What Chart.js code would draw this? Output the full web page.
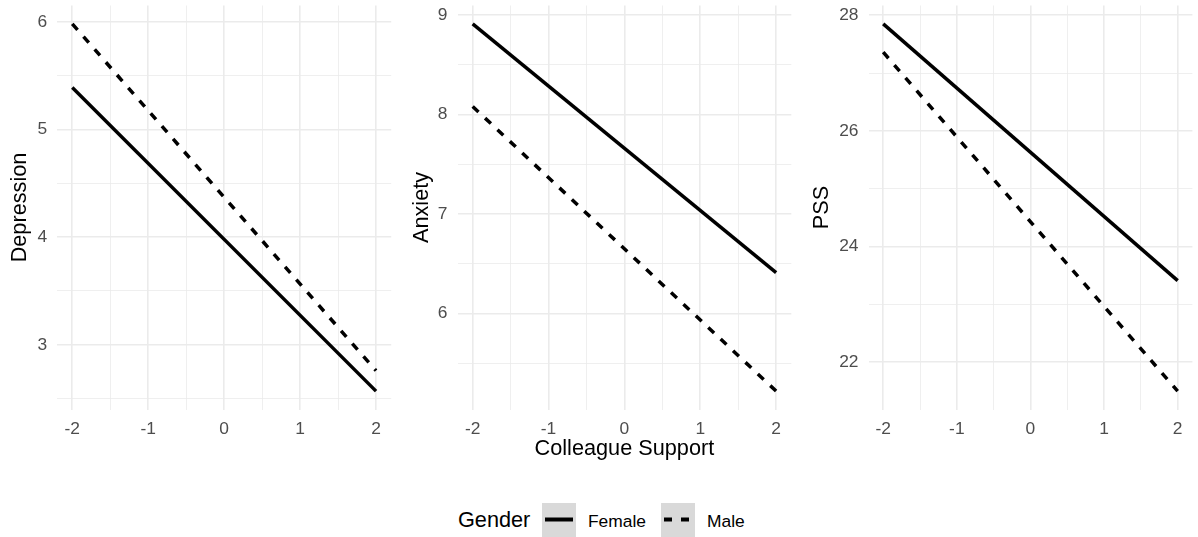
<!DOCTYPE html>
<html>
<head>
<meta charset="utf-8">
<script src="https://cdn.jsdelivr.net/npm/chart.js@4"></script>
<style>
  html, body { margin: 0; padding: 0; background: #fff; }
  body { width: 1198px; height: 537px; position: relative; overflow: hidden; font-family: "Liberation Sans", Arial, sans-serif; }
  .panel { position: absolute; top: 0; height: 470px; }
  .legend_text { position: absolute; white-space: nowrap; color: #000; }
  .legend_key { position: absolute; top: 503px; width: 34px; height: 34px; background: #d9d9d9; }
</style>
</head>
<body>
<div class="panel" style="left:0px;width:400px"><canvas id="chart_depression"></canvas></div>
<div class="panel" style="left:400px;width:400px"><canvas id="chart_anxiety"></canvas></div>
<div class="panel" style="left:800px;width:398px"><canvas id="chart_pss"></canvas></div>

<span class="legend_text" style="left:458px;top:507px;font-size:21.7px;line-height:26px">Gender</span>
<div class="legend_key" style="left:542px">
  <svg width="34" height="34"><line x1="3" y1="16.5" x2="31" y2="16.5" stroke="#000" stroke-width="4"/></svg>
</div>
<span class="legend_text" style="left:588px;top:511px;font-size:17.4px;line-height:21px">Female</span>
<div class="legend_key" style="left:661px">
  <svg width="34" height="34"><line x1="3" y1="16.5" x2="29" y2="16.5" stroke="#000" stroke-width="4" stroke-dasharray="8 9"/></svg>
</div>
<span class="legend_text" style="left:707px;top:511px;font-size:17.4px;line-height:21px">Male</span>

<script>
const colleague_support = [-2, 2];
const depression_female = [5.39, 2.57];
const depression_male = [5.98, 2.76];
const anxiety_female = [8.91, 6.41];
const anxiety_male = [8.08, 5.22];
const pss_female = [27.85, 23.41];
const pss_male = [27.36, 21.50];
const x_ticks = [-2, -1, 0, 1, 2];
const depression_ticks = [3, 4, 5, 6];
const anxiety_ticks = [6, 7, 8, 9];
const pss_ticks = [22, 24, 26, 28];

const tick_color = '#4d4d4d';
const grid_color = '#ebebeb';

function to_points (values) {
  return colleague_support.map((x, i) => ({ x: x, y: values[i] }));
}

// majors plus the half steps between them, kept inside the axis range
function with_minors (majors, min, max) {
  const step = majors[1] - majors[0];
  const all = majors.slice();
  for (let i = -1; i < majors.length; i++) {
    const v = majors[0] + step * (i + 0.5);
    if (v > min && v < max) all.push(v);
  }
  return all.sort((a, b) => a - b);
}

// ggplot default: 5% expansion on each side
function expand (values) {
  const lo = Math.min(...values);
  const hi = Math.max(...values);
  const pad = (hi - lo) * 0.05;
  return [lo - pad, hi + pad];
}

function build_scale (majors, min, max, extra) {
  const all = with_minors(majors, min, max);
  return Object.assign({
    type: 'linear',
    min: min,
    max: max,
    border: { display: false },
    afterBuildTicks: (scale) => {
      scale.ticks = all.map((v) => ({ value: v }));
    },
    grid: {
      drawTicks: false,
      color: grid_color,
      lineWidth: (ctx) => (ctx.tick && majors.includes(ctx.tick.value)) ? 1.6 : 0.8
    },
    ticks: {
      color: tick_color,
      font: { family: '"Liberation Sans", Arial, sans-serif', size: 17.4 },
      callback: (value) => majors.includes(value) ? String(value) : ''
    }
  }, extra);
}

function display_chart (canvas_id, y_title, female, male, y_majors, axis_width, right_pad, x_title, title_pad) {
  const x_range = expand(colleague_support);
  const y_range = expand(female.concat(male));

  const x_scale = build_scale(x_ticks, x_range[0], x_range[1], {
    afterFit: (scale) => {
      scale.height = 60.5;
      scale.paddingLeft = 0;
      scale.paddingRight = 0;
    },
    title: {
      display: x_title != '',
      text: x_title,
      color: '#000',
      font: { family: '"Liberation Sans", Arial, sans-serif', size: 21.7, lineHeight: 1.2 },
      padding: { top: 0, bottom: 8 }
    }
  });
  x_scale.ticks.padding = 9;

  const y_scale = build_scale(y_majors, y_range[0], y_range[1], {
    afterFit: (scale) => {
      scale.width = axis_width;
      scale.paddingTop = 0;
      scale.paddingBottom = 0;
    },
    title: {
      display: true,
      text: y_title,
      color: '#000',
      font: { family: '"Liberation Sans", Arial, sans-serif', size: 21.7, lineHeight: 1.2 },
      padding: { top: title_pad, bottom: 0 }
    }
  });
  y_scale.ticks.padding = 10;

  new Chart(document.getElementById(canvas_id), {
    type: 'line',
    data: {
      datasets: [
        {
          label: 'Female',
          data: to_points(female),
          borderColor: '#000',
          borderWidth: 3.5,
          borderCapStyle: 'butt',
          pointRadius: 0,
          fill: false
        },
        {
          label: 'Male',
          data: to_points(male),
          borderColor: '#000',
          borderWidth: 3.5,
          borderDash: [8, 9],
          borderCapStyle: 'butt',
          pointRadius: 0,
          fill: false
        }
      ]
    },
    options: {
      responsive: true,
      maintainAspectRatio: false,
      animation: false,
      events: [],
      layout: {
        autoPadding: false,
        padding: { left: 0, top: 5.5, right: right_pad, bottom: 0 }
      },
      plugins: {
        legend: { display: false },
        tooltip: { enabled: false }
      },
      scales: {
        x: x_scale,
        y: y_scale
      }
    }
  });
}

display_chart('chart_depression', 'Depression', depression_female, depression_male, depression_ticks, 57.1, 8.8, '', 7.5);
display_chart('chart_anxiety', 'Anxiety', anxiety_female, anxiety_male, anxiety_ticks, 57.5, 8.7, 'Colleague Support', 9.5);
display_chart('chart_pss', 'PSS', pss_female, pss_male, pss_ticks, 68.5, 5.6, '', 9.5);
</script>
</body>
</html>
